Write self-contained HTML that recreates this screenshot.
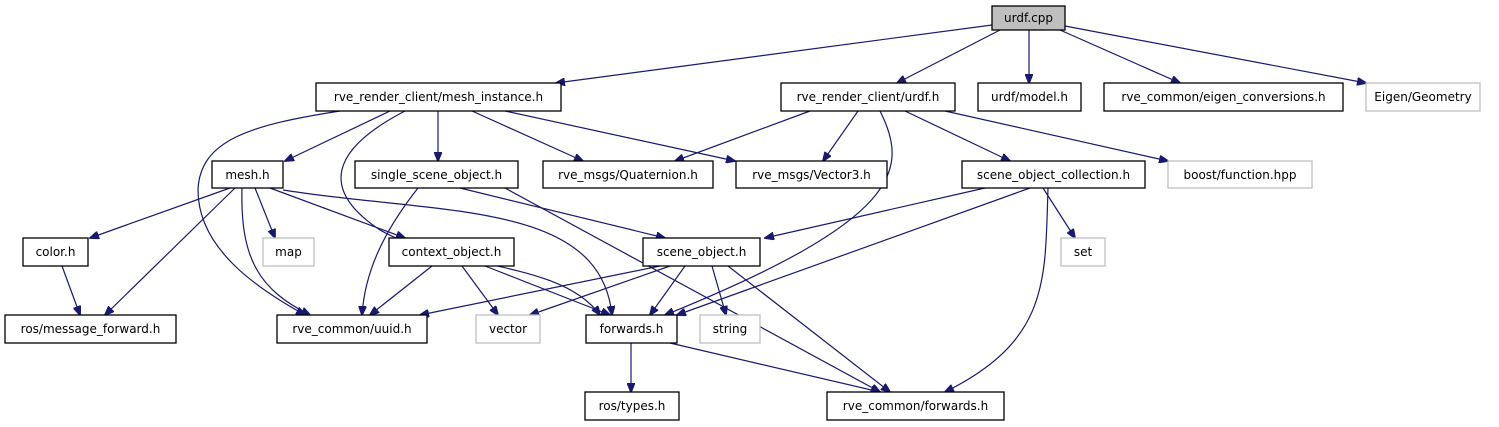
<!DOCTYPE html>
<html><head><meta charset="utf-8"><style>
html,body{margin:0;padding:0;background:#fff;}
svg{display:block;}
text{font-family:"DejaVu Sans","Liberation Sans",sans-serif;font-size:12px;fill:#000;}
.n{fill:#fff;stroke:#000;stroke-width:1.3;}
.g{fill:#fff;stroke:#bfbfbf;stroke-width:1.3;}
.e{fill:none;stroke:#191970;stroke-width:1.2;}
</style></head><body>
<svg width="1499" height="427" viewBox="0 0 1499 427" xmlns="http://www.w3.org/2000/svg">
<defs><marker id="a" markerWidth="10" markerHeight="8" refX="9" refY="4" orient="auto" markerUnits="userSpaceOnUse"><path d="M0,0 L10,4 L0,8 z" fill="#191970" stroke="#191970"/></marker></defs>
<g class="e" marker-end="url(#a)">
<path d="M992,25 L556,83"/>
<path d="M1000,30 L897,83"/>
<path d="M1029,30 L1029,83"/>
<path d="M1060,30 L1180,83"/>
<path d="M1065,26 L1366,83"/>
<path d="M340,111 C250,125 200,140 198,190 C198,250 260,290 305,315"/>
<path d="M390,111 L285,161"/>
<path d="M405,111 C330,150 320,190 380,230 C450,270 560,260 600,315"/>
<path d="M438,111 L438,161"/>
<path d="M472,111 L583,161"/>
<path d="M505,111 L735,161"/>
<path d="M810,111 L675,161"/>
<path d="M858,111 L823,161"/>
<path d="M880,111 C910,170 900,220 665,315"/>
<path d="M905,111 L1010,161"/>
<path d="M945,111 L1168,161"/>
<path d="M230,188 L90,238"/>
<path d="M235,188 L105,315"/>
<path d="M242,188 C240,260 260,290 310,315"/>
<path d="M255,188 L275,238"/>
<path d="M270,188 L405,238"/>
<path d="M283,190 C440,215 600,200 612,315"/>
<path d="M418,188 C385,230 365,270 362,315"/>
<path d="M460,188 L665,238"/>
<path d="M505,188 L880,392"/>
<path d="M985,188 L765,238"/>
<path d="M1043,188 L1075,238"/>
<path d="M1030,188 L677,315"/>
<path d="M1048,188 C1045,280 1050,340 945,392"/>
<path d="M62,266 L80,315"/>
<path d="M432,266 L370,315"/>
<path d="M462,266 L498,315"/>
<path d="M485,266 L610,315"/>
<path d="M660,266 L420,315"/>
<path d="M670,266 L530,315"/>
<path d="M685,266 L650,315"/>
<path d="M712,266 L726,315"/>
<path d="M728,266 L890,392"/>
<path d="M631,343 L631,392"/>
<path d="M670,343 L880,392"/>
</g>
<rect x="992" y="6" width="73" height="24" fill="#bfbfbf" stroke="#000" stroke-width="1.3"/>
<text x="1028.5" y="22" text-anchor="middle">urdf.cpp</text>
<g>
<rect class="n" x="316" y="83" width="245" height="28"/><text x="438.5" y="101" text-anchor="middle">rve_render_client/mesh_instance.h</text>
<rect class="n" x="781" y="83" width="174" height="28"/><text x="868" y="101" text-anchor="middle">rve_render_client/urdf.h</text>
<rect class="n" x="978" y="83" width="103" height="28"/><text x="1029.5" y="101" text-anchor="middle">urdf/model.h</text>
<rect class="n" x="1104" y="83" width="239" height="28"/><text x="1223.5" y="101" text-anchor="middle">rve_common/eigen_conversions.h</text>
<rect class="g" x="1366" y="83" width="114" height="28"/><text x="1423" y="101" text-anchor="middle">Eigen/Geometry</text>
<rect class="n" x="212" y="161" width="71" height="27"/><text x="247.5" y="179" text-anchor="middle">mesh.h</text>
<rect class="n" x="355" y="161" width="163" height="27"/><text x="436.5" y="179" text-anchor="middle">single_scene_object.h</text>
<rect class="n" x="543" y="161" width="170" height="27"/><text x="628" y="179" text-anchor="middle">rve_msgs/Quaternion.h</text>
<rect class="n" x="736" y="161" width="151" height="27"/><text x="811.5" y="179" text-anchor="middle">rve_msgs/Vector3.h</text>
<rect class="n" x="962" y="161" width="183" height="27"/><text x="1053.5" y="179" text-anchor="middle">scene_object_collection.h</text>
<rect class="g" x="1168" y="161" width="144" height="27"/><text x="1240" y="179" text-anchor="middle">boost/function.hpp</text>
<rect class="n" x="23" y="238" width="65" height="28"/><text x="55.5" y="256" text-anchor="middle">color.h</text>
<rect class="g" x="263" y="238" width="51" height="28"/><text x="288.5" y="256" text-anchor="middle">map</text>
<rect class="n" x="389" y="238" width="125" height="28"/><text x="451.5" y="256" text-anchor="middle">context_object.h</text>
<rect class="n" x="643" y="238" width="117" height="28"/><text x="701.5" y="256" text-anchor="middle">scene_object.h</text>
<rect class="g" x="1061" y="238" width="44" height="28"/><text x="1083" y="256" text-anchor="middle">set</text>
<rect class="n" x="5" y="315" width="171" height="28"/><text x="90.5" y="333" text-anchor="middle">ros/message_forward.h</text>
<rect class="n" x="277" y="315" width="150" height="28"/><text x="352" y="333" text-anchor="middle">rve_common/uuid.h</text>
<rect class="g" x="476" y="315" width="64" height="28"/><text x="508" y="333" text-anchor="middle">vector</text>
<rect class="n" x="586" y="315" width="91" height="28"/><text x="631.5" y="333" text-anchor="middle">forwards.h</text>
<rect class="g" x="700" y="315" width="60" height="28"/><text x="730" y="333" text-anchor="middle">string</text>
<rect class="n" x="585" y="392" width="94" height="28"/><text x="632" y="410" text-anchor="middle">ros/types.h</text>
<rect class="n" x="827" y="392" width="177" height="28"/><text x="915.5" y="410" text-anchor="middle">rve_common/forwards.h</text>
</g>
</svg>
</body></html>
